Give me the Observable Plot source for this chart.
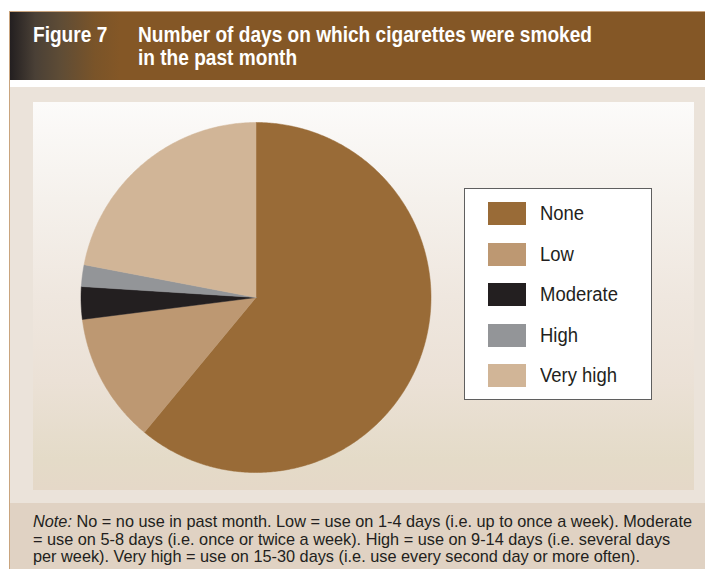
<!DOCTYPE html>
<html>
<head>
<meta charset="utf-8">
<script src="https://cdn.jsdelivr.net/npm/d3@7"></script>
<script src="https://cdn.jsdelivr.net/npm/@observablehq/plot@0.6"></script>
<style>
  html, body { margin: 0; padding: 0; background: #ffffff; }
  body { width: 705px; height: 569px; position: relative; overflow: hidden;
         font-family: 'Liberation Sans', Arial, sans-serif; color: #231f20; }
  #frame { position: absolute; left: 9px; top: 11px; width: 696px; height: 558px;
           border-left: 1px solid #c9a47e; border-top: 1px solid #c9a47e; box-sizing: border-box; }
  #header { position: absolute; left: 10px; top: 12px; width: 695px; height: 68px;
            background: linear-gradient(to right, #231f20 0px, #4a4036 25px, #5e4c36 50px, #7a5429 85px, #845726 110px, #845726 100%); }
  .t { position: absolute; color: #ffffff; font-weight: bold; font-size: 22px; line-height: 23px; white-space: nowrap; }
  .fit { display: inline-block; transform-origin: 0 0; white-space: nowrap; }
  #panel { position: absolute; left: 10px; top: 87px; width: 695px; height: 416px; background: #ebe3da; }
  #inner { position: absolute; left: 33px; top: 102px; width: 661px; height: 388px;
           background: linear-gradient(to bottom, #fcfbfa 0%, #f5f1ec 25%, #efe7df 50%, #ebe1d6 72%, #e4dbc8 92%, #e5d8c8 100%); }
  #chart { position: absolute; left: 33px; top: 102px; }
  #legend { position: absolute; left: 464px; top: 188px; width: 188px; height: 212px;
            background: #ffffff; border: 1px solid #5f5f5f; box-sizing: border-box; }
  .row { position: absolute; left: 23px; height: 23px; }
  .sw { position: absolute; left: 0; top: 0; width: 38px; height: 23px; }
  .lab { position: absolute; left: 52px; top: -2px; font-size: 20px; line-height: 26px; white-space: nowrap; color: #231f20; }
  #notebg { position: absolute; left: 10px; top: 503px; width: 695px; height: 66px; background: #e0d2c3; }
  .nl { position: absolute; left: 33px; font-size: 17px; line-height: 17.5px; color: #231f20; white-space: nowrap; }
</style>
</head>
<body>
<div id="frame"></div>
<div id="header"></div>
<div class="t" style="left:33px; top:23px;"><span class="fit tf">Figure 7</span></div>
<div class="t" style="left:138px; top:23px;"><span class="fit tf" id="tmain">Number of days on which cigarettes were smoked</span></div>
<div class="t" style="left:138px; top:46px;"><span class="fit tf">in the past month</span></div>
<div id="panel"></div>
<div id="inner"></div>
<div id="chart"></div>
<div id="legend"></div>
<div id="notebg"></div>
<div id="notes"></div>
<script>
// ---- data ----
const categories = ["None", "Low", "Moderate", "High", "Very high"];
const percentages = [61, 12, 3, 2, 22];
const colors = ["#996b37", "#bd9872", "#231f20", "#939598", "#d1b597"];
const noteLines = [
  "<i>Note:</i> No = no use in past month. Low = use on 1-4 days (i.e. up to once a week). Moderate",
  "= use on 5-8 days (i.e. once or twice a week). High = use on 9-14 days (i.e. several days",
  "per week). Very high = use on 15-30 days (i.e. use every second day or more often)."
];

// ---- pie geometry (unit circle, clockwise from 12 o'clock) ----
const total = d3.sum(percentages);
const pts = [];
let acc = 0;
categories.forEach((c, i) => {
  const a0 = acc / total * 2 * Math.PI;
  acc += percentages[i];
  const a1 = acc / total * 2 * Math.PI;
  pts.push({cat: c, x: 0, y: 0});
  const n = Math.max(2, Math.ceil((a1 - a0) / (Math.PI / 360)));
  for (let k = 0; k <= n; k++) {
    const a = a0 + (a1 - a0) * k / n;
    pts.push({cat: c, x: Math.sin(a), y: Math.cos(a)});
  }
  pts.push({cat: c, x: 0, y: 0});
});

const W = 661, H = 388, cx = 222.5, cy = 195, R = 175;
const chart = Plot.plot({
  width: W, height: H,
  margin: 0,
  style: {background: "transparent", overflow: "visible"},
  x: {domain: [-1, 1], range: [cx - R, cx + R], axis: null},
  y: {domain: [-1, 1], range: [cy + R, cy - R], axis: null},
  color: {domain: categories, range: colors},
  marks: [
    Plot.line(pts, {x: "x", y: "y", z: "cat", fill: "cat", stroke: "cat", strokeWidth: 0.5, curve: "linear"})
  ]
});
document.getElementById("chart").appendChild(chart);

// ---- legend ----
const leg = document.getElementById("legend");
const rowTops = [13, 54, 94, 135, 175];
categories.forEach((c, i) => {
  const r = document.createElement("div");
  r.className = "row";
  r.style.top = (rowTops[i]) + "px";
  r.innerHTML = `<div class="sw" style="background:${colors[i]}"></div><div class="lab"><span class="fit lf">${c}</span></div>`;
  leg.appendChild(r);
});

// ---- note ----
const notes = document.getElementById("notes");
const noteTop = 513;
noteLines.forEach((t, i) => {
  const d = document.createElement("div");
  d.className = "nl";
  d.style.top = (noteTop + i * 17.5) + "px";
  d.innerHTML = `<span class="fit nf">${t}</span>`;
  notes.appendChild(d);
});

// ---- condense text horizontally to match the narrow typeface ----
function condense(selector, refEl, targetWidth) {
  const s = targetWidth / refEl.getBoundingClientRect().width;
  document.querySelectorAll(selector).forEach(el => el.style.transform = `scaleX(${s})`);
}
condense(".tf", document.getElementById("tmain"), 454);
condense(".lf", document.querySelectorAll(".lf")[2], 78);
condense(".nf", document.querySelectorAll(".nf")[0], 659);
</script>
</body>
</html>
